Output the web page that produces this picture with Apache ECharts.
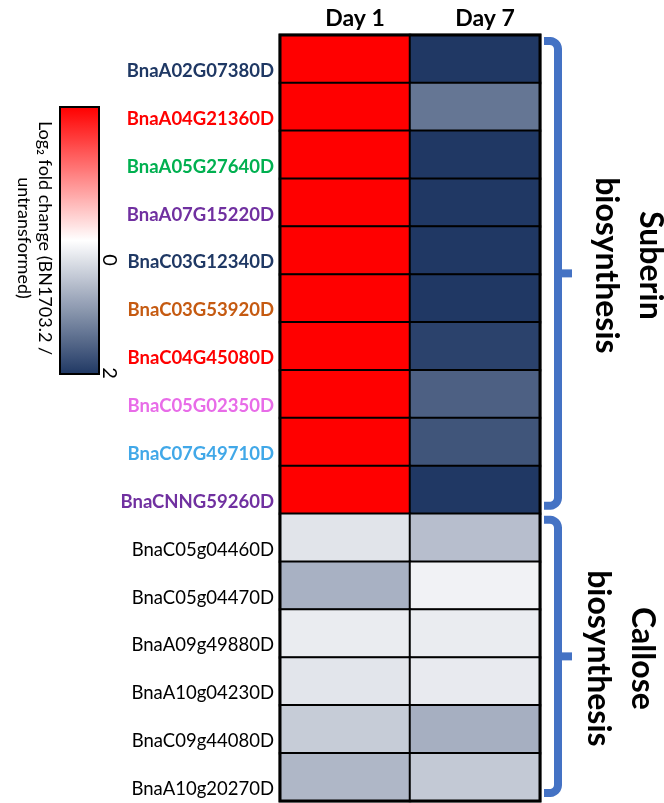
<!DOCTYPE html>
<html>
<head>
<meta charset="utf-8">
<script src="https://cdn.jsdelivr.net/npm/echarts@6/dist/echarts.min.js"></script>
<style>html,body{margin:0;padding:0;background:#fff;}#c{width:664px;height:803px;}</style>
</head>
<body>
<div id="c"></div>
<script>
const days = ['Day 1', 'Day 7'];
const genes = ['BnaA02G07380D','BnaA04G21360D','BnaA05G27640D','BnaA07G15220D','BnaC03G12340D',
  'BnaC03G53920D','BnaC04G45080D','BnaC05G02350D','BnaC07G49710D','BnaCNNG59260D',
  'BnaC05g04460D','BnaC05g04470D','BnaA09g49880D','BnaA10g04230D','BnaC09g44080D','BnaA10g20270D'];
const geneColors = ['#1f3864','#ff0000','#00b050','#7030a0','#1f3864','#c55a11','#ff0000','#e86ce8','#41a8e8','#7030a0',
  '#000','#000','#000','#000','#000','#000'];
const geneBold = [1,1,1,1,1,1,1,1,1,1,0,0,0,0,0,0];
const day1 = [2,2,2,2,2,2,2,2,2,2,-0.27,-0.78,-0.19,-0.26,-0.51,-0.72];
const day7 = [-2,-1.38,-2,-2,-2,-2,-1.9,-1.6,-1.71,-2,-0.65,-0.13,-0.19,-0.21,-0.8,-0.54];
const scaleTicks = ['0', '2'];
const groups = ['Suberin\nbiosynthesis', 'Callose\nbiosynthesis'];
const groupSizes = [10, 6];

const data = [];
genes.forEach((g, i) => { data.push([0, i, day1[i]]); data.push([1, i, day7[i]]); });

const G = {left: 280, top: 35, width: 260, height: 766};
const rowH = G.height / genes.length;
const FONT = 'Lato, "Open Sans", sans-serif';
const blue = '#4472c4';

const rich = {};
genes.forEach((g, i) => {
  rich['g' + i] = {color: geneColors[i], fontWeight: geneBold[i] ? 'bold' : 'normal',
    fontFamily: FONT, fontSize: 18.5, padding: [24, 0, 0, 0], lineHeight: 22};
});

function arc(cx, cy, r, a0, a1, n) {
  const pts = [];
  for (let i = 0; i <= n; i++) { const a = a0 + (a1 - a0) * i / n; pts.push([cx + r * Math.cos(a), cy + r * Math.sin(a)]); }
  return pts;
}

const graphics = [];
graphics.push({type:'rect', z:100, shape:{x:G.left, y:G.top, width:G.width, height:G.height},
  style:{fill:'transparent', stroke:'#000', lineWidth:3}});
let start = 0;
const bx = G.left + G.width + 18;
const textCx = [628, 620];
const textDy = [-8, 2];
groups.forEach((name, k) => {
  const y0 = G.top + start * rowH + 6;
  const y1 = G.top + (start + groupSizes[k]) * rowH - 8;
  const ym = (y0 + y1) / 2;
  const lx = G.left + G.width + 4;
  const r = 8;
  const pts = [[lx, y0]].concat(arc(bx - r, y0 + r, r, -Math.PI/2, 0, 6))
    .concat(arc(bx - r, y1 - r, r, 0, Math.PI/2, 6)).concat([[lx, y1]]);
  graphics.push({type:'polyline', z:100, shape:{points:pts},
    style:{fill:null, stroke:blue, lineWidth:8, lineJoin:'round'}});
  graphics.push({type:'rect', z:100, shape:{x:bx, y:ym-4, width:14, height:8}, style:{fill:blue}});
  graphics.push({type:'text', z:100, x:textCx[k], y:ym + textDy[k], rotation:-Math.PI/2,
    style:{text:name, fontFamily:FONT, fontWeight:'bold', fontSize:32, lineHeight:44, fill:'#000',
      align:'center', verticalAlign:'middle'}});
  start += groupSizes[k];
});
const CB = {x:60, y:107, w:39, h:267};
graphics.push({type:'rect', z:100, shape:{x:CB.x, y:CB.y, width:CB.w, height:CB.h},
  style:{fill:'transparent', stroke:'#000', lineWidth:2}});
graphics.push({type:'text', z:100, x:34, y:238, rotation:-Math.PI/2,
  style:{text:'Log\u2082 fold change (BN1703.2 /\nuntransformed)', fontFamily:FONT, fontSize:18, lineHeight:21,
    fill:'#000', align:'center', verticalAlign:'middle'}});
graphics.push({type:'text', z:100, x:109, y:260, rotation:-Math.PI/2,
  style:{text:scaleTicks[0], fontFamily:FONT, fontSize:20, fill:'#000', align:'center', verticalAlign:'middle'}});
graphics.push({type:'text', z:100, x:109, y:373, rotation:-Math.PI/2,
  style:{text:scaleTicks[1], fontFamily:FONT, fontSize:20, fill:'#000', align:'center', verticalAlign:'middle'}});

const chart = echarts.init(document.getElementById('c'));
chart.setOption({
  backgroundColor:'#fff',
  animation:false,
  grid:{left:G.left, top:G.top, width:G.width, height:G.height},
  xAxis:{type:'category', data:days, position:'top',
    axisLine:{show:false}, axisTick:{show:false}, splitLine:{show:false},
    axisLabel:{fontFamily:FONT, fontWeight:'bold', fontSize:23, color:'#000', margin:5, padding:[0,0,0,20]}},
  yAxis:{type:'category', inverse:true, data:genes,
    axisLine:{show:false}, axisTick:{show:false}, splitLine:{show:false},
    axisLabel:{margin:6, rich:rich, formatter:(v, i) => '{g' + i + '|' + v + '}'}},
  visualMap:{type:'continuous', min:-2, max:2, calculable:false, show:true, text:null,
    left:CB.x, top:CB.y, itemWidth:CB.w, itemHeight:CB.h, padding:0, showLabel:false,
    inRange:{color:['#203864','#ffffff','#ff0000']}},
  series:[{type:'heatmap', data:data,
    itemStyle:{borderColor:'#000', borderWidth:2},
    emphasis:{disabled:true}, label:{show:false}}],
  graphic:graphics
});
</script>
</body>
</html>
